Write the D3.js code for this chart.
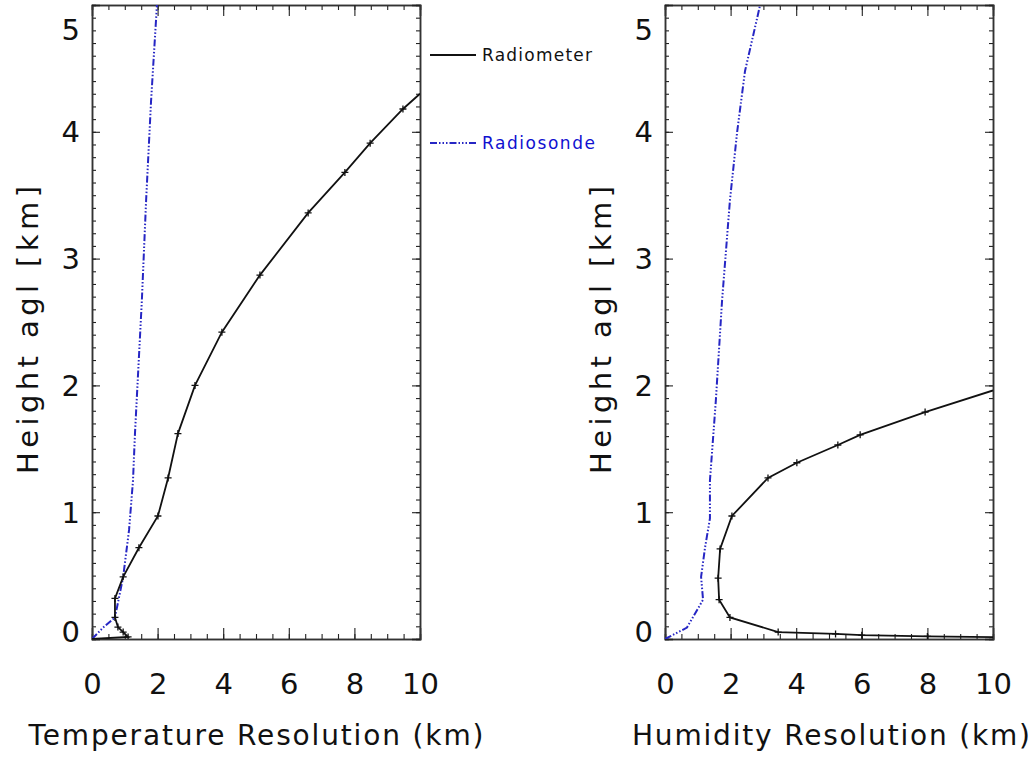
<!DOCTYPE html>
<html>
<head>
<meta charset="utf-8">
<script src="https://cdn.jsdelivr.net/npm/d3@7"></script>
<style>
  body { margin: 0; background: #fff; }
  text { font-family: "DejaVu Sans", sans-serif; fill: #111; }
</style>
</head>
<body>
<script>
const width = 1034;
const height = 759;

// Temperature panel
const tempRadiometerRes = [0.0, 1.10, 0.95, 0.79, 0.70, 0.70, 0.95, 1.43, 2.01, 2.32, 2.62, 3.14, 3.96, 5.12, 6.59, 7.71, 8.48, 9.48, 10.0];
const tempRadiometerHgt = [0.0, 0.016, 0.055, 0.094, 0.17, 0.32, 0.49, 0.72, 0.97, 1.27, 1.62, 2.0, 2.42, 2.87, 3.36, 3.68, 3.91, 4.18, 4.30];
const tempSondeRes = [0.0, 0.34, 0.70, 0.95, 1.13, 1.25, 1.31, 1.52, 1.65, 1.80, 1.98];
const tempSondeHgt = [0.0, 0.09, 0.17, 0.49, 0.86, 1.25, 1.62, 2.67, 3.46, 4.24, 5.0];

// Humidity panel
const humRadiometerRes = [10.0, 8.0, 6.0, 5.2, 3.45, 1.98, 1.65, 1.62, 1.68, 2.04, 3.14, 4.02, 5.27, 5.95, 7.93, 10.0];
const humRadiometerHgt = [0.015, 0.02, 0.03, 0.04, 0.055, 0.17, 0.31, 0.48, 0.71, 0.97, 1.27, 1.39, 1.53, 1.61, 1.79, 1.96];
const humSondeRes = [0.0, 0.67, 1.16, 1.10, 1.22, 1.37, 1.37, 1.55, 1.74, 1.98, 2.2, 2.44, 2.9];
const humSondeHgt = [0.0, 0.09, 0.31, 0.49, 0.72, 0.95, 1.25, 1.88, 2.67, 3.46, 4.0, 4.48, 5.0];

const xTicks = [0, 2, 4, 6, 8, 10];
const yTicks = [0, 1, 2, 3, 4, 5];
const legendNames = ["Radiometer", "Radiosonde"];

const sondeColor = "#2626c4";
const sondeDash = "7,2,1.5,2,1.5,2,1.5,2";

const svg = d3.select("body").append("svg")
    .attr("width", width)
    .attr("height", height);

const plotTop = 5, plotBottom = 639, panelW = 328;

const y = d3.scaleLinear().domain([0, 5]).range([plotBottom, plotTop]);

function zip(a, b) { return a.map((v, i) => [v, b[i]]); }

function drawPanel(left, xTitle, titleX, titleLen, radRes, radHgt, sondeRes, sondeHgt, id) {
    const x = d3.scaleLinear().domain([0, 10]).range([left, left + panelW]);
    const g = svg.append("g");

    svg.append("clipPath").attr("id", id)
        .append("rect").attr("x", left).attr("y", plotTop)
        .attr("width", panelW).attr("height", plotBottom - plotTop);

    // axes, ticks pointing inward on all four sides
    const minorX = d3.range(0, 10.01, 0.5);
    const minorY = d3.range(0, 5.001, 0.1);

    g.append("g").attr("transform", `translate(0,${plotBottom})`)
        .call(d3.axisBottom(x).tickValues(minorX).tickSize(-5).tickFormat(""));
    g.append("g").attr("transform", `translate(0,${plotBottom})`)
        .call(d3.axisBottom(x).tickValues(xTicks).tickSize(-11).tickPadding(34).tickFormat(d3.format("d")))
        .call(a => a.selectAll("text").attr("font-size", 29));
    g.append("g").attr("transform", `translate(0,${plotTop})`)
        .call(d3.axisTop(x).tickValues(minorX).tickSize(-5).tickFormat(""));
    g.append("g").attr("transform", `translate(0,${plotTop})`)
        .call(d3.axisTop(x).tickValues(xTicks).tickSize(-11).tickFormat(""));

    g.append("g").attr("transform", `translate(${left},0)`)
        .call(d3.axisLeft(y).tickValues(minorY).tickSize(-4).tickFormat(""));
    g.append("g").attr("transform", `translate(${left},0)`)
        .call(d3.axisLeft(y).tickValues(yTicks).tickSize(-8).tickPadding(12).tickFormat(d3.format("d")))
        .call(a => a.selectAll("text").attr("font-size", 29)
            .attr("dy", d => d === 5 ? "1.18em" : d === 0 ? "0.08em" : "0.34em"));
    g.append("g").attr("transform", `translate(${left + panelW},0)`)
        .call(d3.axisRight(y).tickValues(minorY).tickSize(-4).tickFormat(""));
    g.append("g").attr("transform", `translate(${left + panelW},0)`)
        .call(d3.axisRight(y).tickValues(yTicks).tickSize(-8).tickFormat(""));

    g.selectAll(".domain").attr("stroke", "#333").attr("stroke-width", 1.5);
    g.selectAll(".tick line").attr("stroke", "#222").attr("stroke-width", 1.1);

    // axis titles
    g.append("text")
        .attr("x", titleX).attr("y", 745)
        .attr("text-anchor", "middle").attr("font-size", 28)
        .attr("textLength", titleLen).attr("lengthAdjust", "spacing")
        .text(xTitle);
    g.append("text")
        .attr("transform", `translate(${left - 64},330) rotate(-90)`)
        .attr("text-anchor", "middle").attr("dominant-baseline", "central")
        .attr("font-size", 29)
        .attr("textLength", 288).attr("lengthAdjust", "spacing")
        .text("Height agl [km]");

    const line = d3.line().x(d => x(d[0])).y(d => y(d[1]));
    const plot = g.append("g").attr("clip-path", `url(#${id})`);

    plot.append("path")
        .attr("d", line(zip(sondeRes, sondeHgt)))
        .attr("fill", "none").attr("stroke", sondeColor)
        .attr("stroke-width", 2).attr("stroke-dasharray", sondeDash);

    const radPts = zip(radRes, radHgt);
    plot.append("path")
        .attr("d", line(radPts))
        .attr("fill", "none").attr("stroke", "#111").attr("stroke-width", 1.8);

    plot.selectAll(".mk")
        .data(radPts.filter(d => d[0] > 0 && d[0] < 10))
        .enter().append("path")
        .attr("transform", d => `translate(${x(d[0])},${y(d[1])})`)
        .attr("d", "M-3.5,0H3.5M0,-3.5V3.5")
        .attr("stroke", "#111").attr("stroke-width", 1.3);
}

drawPanel(92, "Temperature Resolution (km)", 256, 455, tempRadiometerRes, tempRadiometerHgt, tempSondeRes, tempSondeHgt, "clipT");
drawPanel(665, "Humidity Resolution (km)", 831, 398, humRadiometerRes, humRadiometerHgt, humSondeRes, humSondeHgt, "clipH");

// legend
const legend = svg.append("g");
const legendY = [55, 143];
const legendLen = [110, 113];
legend.selectAll("line")
    .data(legendNames)
    .enter().append("line")
    .attr("x1", 430).attr("x2", 476)
    .attr("y1", (d, i) => legendY[i]).attr("y2", (d, i) => legendY[i])
    .attr("stroke", (d, i) => i ? sondeColor : "#111")
    .attr("stroke-width", 2)
    .attr("stroke-dasharray", (d, i) => i ? sondeDash : null);
legend.selectAll("text")
    .data(legendNames)
    .enter().append("text")
    .attr("x", 482).attr("y", (d, i) => legendY[i])
    .attr("dominant-baseline", "central")
    .attr("font-size", 17)
    .attr("textLength", (d, i) => legendLen[i]).attr("lengthAdjust", "spacing")
    .style("fill", (d, i) => i ? "#1010d0" : "#111")
    .text(d => d);
</script>
</body>
</html>
